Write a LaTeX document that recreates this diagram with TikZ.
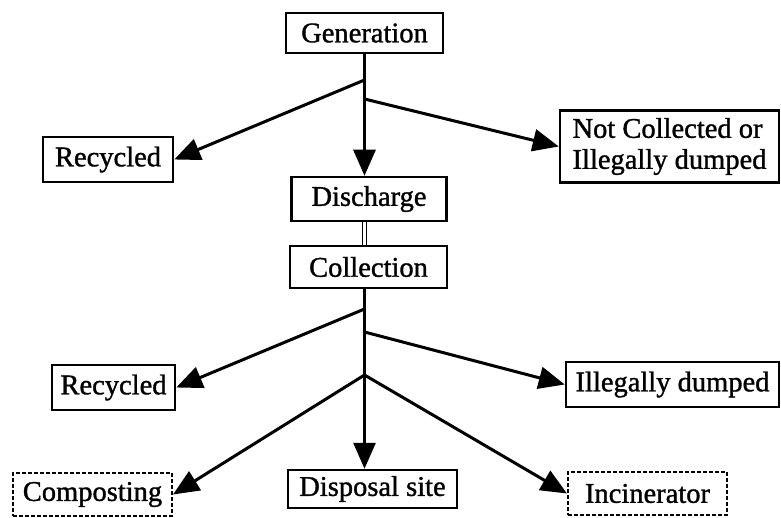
\documentclass[tikz,border=0pt]{standalone}
\usepackage{fontspec}
\setmainfont{Liberation Serif}
\newfontfamily\heavyserif{Liberation Serif}[FakeBold=1.2]
\usetikzlibrary{arrows.meta}
\begin{document}
\begin{tikzpicture}[x=1pt,y=-1pt,
  box/.style={draw=black, line width=2.5pt, rectangle, inner sep=0pt, font=\heavyserif\fontsize{28.5}{31}\selectfont},
  dbox/.style={box, line width=2pt, dash pattern=on 4pt off 2pt},
  arr/.style={line width=3pt, -{Triangle[length=26pt,width=22pt]}},
  dbl/.style={double, double distance=2.5pt, line width=1.2pt}]
\useasboundingbox (0,0) rectangle (781,518);
\node[box, minimum width=157pt, minimum height=40pt] (gen) at (364.5,33) {Generation};
\node[box, minimum width=130pt, minimum height=45pt] (rec1) at (108,159.5) {Recycled};
\node[box, minimum width=219pt, minimum height=72pt, align=left] (notc) at (669.5,146.5) {Not Collected or\\Illegally dumped};
\node[box, minimum width=155pt, minimum height=44pt] (dis) at (369,199) {Discharge};
\node[box, minimum width=157pt, minimum height=42pt] (col) at (368.5,267) {Collection};
\node[box, minimum width=123pt, minimum height=45pt] (rec2) at (113.5,387.5) {Recycled};
\node[box, minimum width=213pt, minimum height=45pt] (ill) at (672.5,384.5) {Illegally dumped};
\node[dbox, minimum width=159pt, minimum height=43pt] (comp) at (92.5,494.5) {Composting};
\node[box, minimum width=169pt, minimum height=38pt] (disp) at (372.5,489) {Disposal site};
\node[dbox, minimum width=159pt, minimum height=43pt] (inc) at (647.5,493.5) {Incinerator};
\coordinate (a1) at (364.5,80);
\coordinate (a2) at (364.5,99);
\coordinate (b1) at (364.5,309);
\coordinate (b2) at (364.5,332);
\coordinate (b3) at (364.5,375);
\draw[arr] (gen.south) -- (gen.south |- dis.north);
\draw[arr] (a1) -- (rec1.east);
\draw[arr] (a2) -- (notc.west);
\draw[dbl] (gen.south |- dis.south) -- (gen.south |- col.north);
\draw[arr] (gen.south |- col.south) -- (gen.south |- disp.north);
\draw[arr] (b1) -- (rec2.east);
\draw[arr] (b2) -- (ill.west);
\draw[arr] (b3) -- (comp.east);
\draw[arr] (b3) -- (inc.west);
\end{tikzpicture}
\end{document}
